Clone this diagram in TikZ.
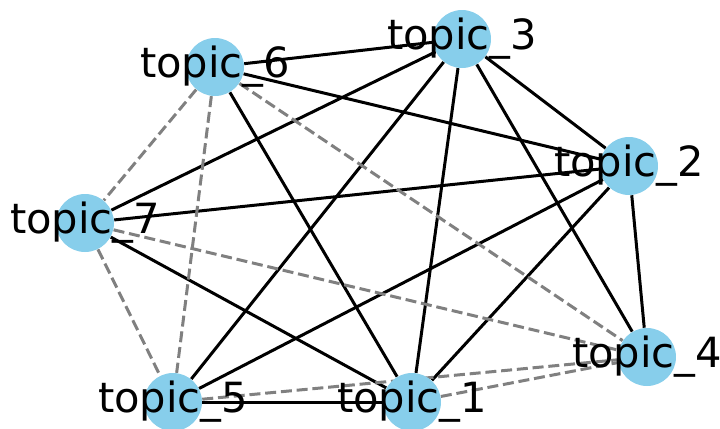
\documentclass[tikz,border=0pt]{standalone}
\usepackage{fontspec}
\setmainfont{DejaVu Sans}
\usetikzlibrary{backgrounds}
\definecolor{skyblue}{HTML}{87CEEB}

\begin{document}
\begin{tikzpicture}[x=0.5pt, y=-0.5pt,
    topic/.style={circle, fill=skyblue, minimum size=29pt, inner sep=0pt},
    tlabel/.style={font=\fontsize{20.8}{24}\selectfont, inner sep=0pt},
    strong/.style={black, line width=1.5pt},
    weak/.style={gray, line width=1.5pt, dash pattern=on 5.5pt off 2.4pt}]
  \useasboundingbox (0,0) rectangle (720,429);

  % Topic nodes
  \node[topic, label={[tlabel]center:topic\_1}] (t1) at (412,402) {};
  \node[topic, label={[tlabel]center:topic\_2}] (t2) at (629,166) {};
  \node[topic, label={[tlabel]center:topic\_3}] (t3) at (462,39)  {};
  \node[topic, label={[tlabel]center:topic\_4}] (t4) at (647,357) {};
  \node[topic, label={[tlabel]center:topic\_5}] (t5) at (173,402) {};
  \node[topic, label={[tlabel]center:topic\_6}] (t6) at (215,67)  {};
  \node[topic, label={[tlabel]center:topic\_7}] (t7) at (85,223)  {};

  \begin{scope}[on background layer]
    % Strong links
    \draw[strong] (t6) -- (t3);
    \draw[strong] (t6) -- (t2);
    \draw[strong] (t6) -- (t1);
    \draw[strong] (t3) -- (t7);
    \draw[strong] (t3) -- (t5);
    \draw[strong] (t3) -- (t1);
    \draw[strong] (t3) -- (t2);
    \draw[strong] (t3) -- (t4);
    \draw[strong] (t7) -- (t2);
    \draw[strong] (t7) -- (t1);
    \draw[strong] (t2) -- (t5);
    \draw[strong] (t2) -- (t1);
    \draw[strong] (t2) -- (t4);
    \draw[strong] (t5) -- (t1);

    % Weak links
    \draw[weak] (t6) -- (t7);
    \draw[weak] (t6) -- (t5);
    \draw[weak] (t6) -- (t4);
    \draw[weak] (t7) -- (t5);
    \draw[weak] (t7) -- (t4);
    \draw[weak] (t5) -- (t4);
    \draw[weak] (t1) -- (t4);
  \end{scope}
\end{tikzpicture}
\end{document}
